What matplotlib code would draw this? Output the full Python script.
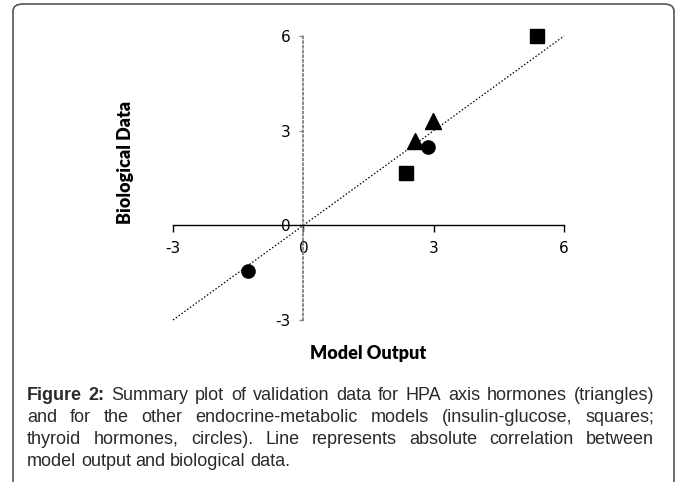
import matplotlib
matplotlib.use("Agg")
import matplotlib.pyplot as plt
from matplotlib.patches import FancyBboxPatch

# data
tri_x = [2.58, 2.99]
tri_y = [2.68, 3.31]
sq_x = [2.37, 5.37]
sq_y = [1.67, 6.0]
circ_x = [2.86, -1.28]
circ_y = [2.47, -1.44]
line_x = [-3, 6]
line_y = [-3, 6]
ticks = [-3, 0, 3, 6]

caption = [
    "Figure 2: Summary plot of validation data for HPA axis hormones (triangles)",
    "and for the other endocrine-metabolic models (insulin-glucose, squares;",
    "thyroid hormones, circles). Line represents absolute correlation between",
    "model output and biological data.",
]

W, H = 677, 482
fig = plt.figure(figsize=(W / 100, H / 100), dpi=100)

# border box
box = FancyBboxPatch((13 / W, 1 - 700 / H), 661 / W, 696 / H,
                     boxstyle="round,pad=0,rounding_size=0.015",
                     transform=fig.transFigure, fill=False,
                     edgecolor="#555555", linewidth=1.2)
fig.patches.append(box)

ax = fig.add_axes([173 / W, 1 - 320 / H, 391 / W, 284 / H])
ax.set_xlim(-3, 6)
ax.set_ylim(-3, 6)
ax.spines["top"].set_visible(False)
ax.spines["right"].set_visible(False)
ax.spines["bottom"].set_position(("data", 0))
ax.spines["left"].set_position(("data", 0))
ax.spines["bottom"].set_linewidth(1.0)
ax.spines["left"].set_color("#808080")
ax.spines["left"].set_linestyle((0, (1.0, 1.6)))
ax.spines["left"].set_linewidth(1.3)
ax.set_xticks(ticks)
ax.set_yticks(ticks)
ax.set_xticklabels([str(t) for t in ticks])
ax.set_yticklabels([str(t) for t in ticks])
ax.tick_params(axis="x", direction="out", length=5, width=1, pad=6, labelsize=11)
ax.tick_params(axis="y", direction="out", length=3, width=1, pad=6, labelsize=11,
               color="#888888")
ax.patch.set_visible(False)

ax.plot(line_x, line_y, color="black", lw=0.9, linestyle=(0, (1.2, 1.6)), clip_on=False)
ax.plot(tri_x, tri_y, "^", color="black", ms=11, clip_on=False)
ax.plot(sq_x, sq_y, "s", color="black", ms=9.5, clip_on=False)
ax.plot(circ_x, circ_y, "o", color="black", ms=9.5, clip_on=False)

title_font = ["Lato", "DejaVu Sans"]
fig.text(368 / W, 1 - 353 / H, "Model Output", ha="center", va="center",
         fontsize=13, fontweight="heavy", family=title_font)
fig.text(125 / W, 1 - 162 / H, "Biological Data", ha="center", va="center",
         rotation=90, fontsize=13, fontweight="heavy", family=title_font)

# justified caption
cap_font = ["Liberation Sans Narrow", "Liberation Sans"]
left, right = 27, 654
line_ys = [395, 417, 439, 461]
fig.canvas.draw()
renderer = fig.canvas.get_renderer()
for i, line in enumerate(caption):
    words = line.split(" ")
    items = []
    for j, w in enumerate(words):
        bold = i == 0 and j < 2
        t = fig.text(0, 1 - line_ys[i] / H, w, ha="left", va="center",
                     fontsize=13, family=cap_font,
                     fontweight="bold" if bold else "normal", color="#2a2a2a")
        items.append(t)
    widths = [t.get_window_extent(renderer).width for t in items]
    if i < len(caption) - 1:
        gap = (right - left - sum(widths)) / (len(items) - 1)
    else:
        gap = 4.5
    x = left
    for t, w in zip(items, widths):
        t.set_x(x / W)
        x += w + gap

fig.savefig("out.png", dpi=100)
